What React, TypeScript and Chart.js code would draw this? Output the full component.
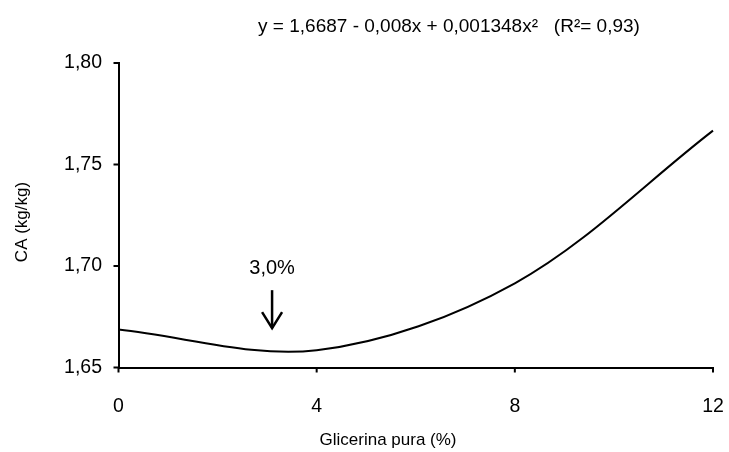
import React, { useEffect, useRef } from "react";
import { Chart, registerables } from "chart.js";

Chart.register(...registerables);

// ---- data ----
const X_VALUES = [0, 4, 8, 12];
const CA_VALUES = [1.6687, 1.6585, 1.6915, 1.7667];
const X_TICKS = [0, 4, 8, 12];
const Y_TICKS = [1.65, 1.7, 1.75, 1.8];
const TITLE = "y = 1,6687 - 0,008x + 0,001348x²   (R²= 0,93)";
const X_TITLE = "Glicerina pura (%)";
const Y_TITLE = "CA (kg/kg)";
const ANNOT_LABEL = "3,0%";
const ANNOT_X = 3.1;
const ANNOT_TOP = 1.6881;
const ANNOT_TIP = 1.6694;

const FONT = '"Liberation Sans", Arial, sans-serif';
const SX = 1.0;

function txt(ctx: CanvasRenderingContext2D, s: string, x: number, y: number, size: number, align: CanvasTextAlign, rot = 0) {
  ctx.save();
  ctx.translate(x, y);
  if (rot) ctx.rotate(rot);
  ctx.scale(SX, 1);
  ctx.font = `${size}px ${FONT}`;
  ctx.fillStyle = "#000";
  ctx.textAlign = align;
  ctx.textBaseline = "middle";
  ctx.fillText(s, 0, 0);
  ctx.restore();
}

const fmt = (v: number) => v.toFixed(2).replace(".", ",");

const decor = {
  id: "decor",
  afterDraw(chart: any) {
    const ctx: CanvasRenderingContext2D = chart.ctx;
    const xs = chart.scales.x;
    const ys = chart.scales.y;
    const area = chart.chartArea;
    ctx.save();
    ctx.strokeStyle = "#000";
    ctx.lineWidth = 2;
    // y ticks
    Y_TICKS.forEach((v) => {
      const py = ys.getPixelForValue(v);
      ctx.beginPath();
      ctx.moveTo(area.left - 5, py);
      ctx.lineTo(area.left, py);
      ctx.stroke();
      txt(ctx, fmt(v), area.left - 16.5, py, 19.5, "right");
    });
    // x ticks
    X_TICKS.forEach((v) => {
      const px = xs.getPixelForValue(v);
      ctx.beginPath();
      ctx.moveTo(px, area.bottom);
      ctx.lineTo(px, area.bottom + 5);
      ctx.stroke();
      txt(ctx, String(v), px, 407, 19.5, "center");
    });
    // titles
    txt(ctx, TITLE, 449, 27, 19, "center");
    txt(ctx, X_TITLE, 388, 440, 17, "center");
    txt(ctx, Y_TITLE, 22, 222, 17, "center", -Math.PI / 2);
    // annotation arrow
    const ax = xs.getPixelForValue(ANNOT_X);
    const at = ys.getPixelForValue(ANNOT_TOP);
    const ab = ys.getPixelForValue(ANNOT_TIP);
    ctx.lineWidth = 2.5;
    ctx.beginPath();
    ctx.moveTo(ax, at);
    ctx.lineTo(ax, ab);
    ctx.stroke();
    ctx.beginPath();
    ctx.moveTo(ax - 10, ab - 16);
    ctx.lineTo(ax, ab);
    ctx.lineTo(ax + 10, ab - 16);
    ctx.stroke();
    txt(ctx, ANNOT_LABEL, ax, at - 22, 20, "center");
    ctx.restore();
  },
};

export default function App() {
  const ref = useRef<HTMLCanvasElement | null>(null);
  useEffect(() => {
    if (!ref.current) return;
    const chart = new Chart(ref.current, {
      type: "line",
      data: {
        datasets: [
          {
            data: X_VALUES.map((x, i) => ({ x, y: CA_VALUES[i] })),
            borderColor: "#000",
            borderWidth: 2,
            pointRadius: 0,
            tension: 1 / 3,
            fill: false,
            clip: false as any,
          },
        ],
      },
      options: {
        animation: false,
        responsive: false,
        devicePixelRatio: 1,
        layout: { padding: { left: 0, top: 63, right: 16, bottom: 0 } },
        plugins: { legend: { display: false }, tooltip: { enabled: false }, title: { display: false } },
        scales: {
          x: {
            type: "linear",
            min: 0,
            max: 12,
            ticks: { display: false, stepSize: 4 },
            grid: { display: false, drawTicks: false },
            border: { display: true, color: "#000", width: 2 },
            afterFit: (s: any) => {
              s.height = 84.5;
            },
          },
          y: {
            type: "linear",
            min: 1.65,
            max: 1.8,
            ticks: { display: false, stepSize: 0.05 },
            grid: { display: false, drawTicks: false },
            border: { display: true, color: "#000", width: 2 },
            afterFit: (s: any) => {
              s.width = 118.5;
            },
          },
        },
      },
      plugins: [decor],
    });
    return () => chart.destroy();
  }, []);
  return (
    <div style={{ position: "fixed", left: 0, top: 0, width: 729, height: 452, background: "#fff" }}>
      <canvas ref={ref} width={729} height={452} />
    </div>
  );
}
